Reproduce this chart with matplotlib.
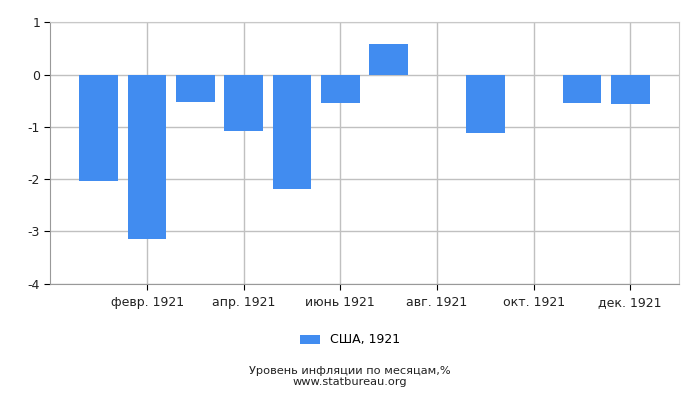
import matplotlib.pyplot as plt

months = ['янв. 1921', 'февр. 1921', 'март 1921', 'апр. 1921', 'май 1921', 'июнь 1921',
          'июль 1921', 'авг. 1921', 'сент. 1921', 'окт. 1921', 'нояб. 1921', 'дек. 1921']
values = [-2.04, -3.14, -0.53, -1.08, -2.19, -0.55, 0.58, 0.0, -1.12, 0.0, -0.55, -0.57]
series_name = 'США, 1921'
bar_color = '#418cf0'

plt.rcParams['axes.unicode_minus'] = False


def main():
    fig = plt.figure(figsize=(7, 4), dpi=100)
    ax = fig.add_axes([0.0721, 0.291, 0.8972, 0.653])

    x = list(range(len(months)))
    ax.bar(x, values, width=0.8, color=bar_color, label=series_name, zorder=3)

    ax.set_xlim(-1, 12)
    ax.set_ylim(-4, 1)
    ax.set_yticks([-4, -3, -2, -1, 0, 1])
    ax.set_xticks(x[1::2])
    ax.set_xticklabels(months[1::2])

    ax.grid(True, color='#c0c0c0', linewidth=1, zorder=0)
    for side in ['top', 'right']:
        ax.spines[side].set_color('#c8c8c8')
    for side in ['left', 'bottom']:
        ax.spines[side].set_color('#999999')
    ax.tick_params(axis='both', labelsize=9, length=4, color='black', labelcolor='#222222')
    ax.tick_params(axis='x', pad=5)

    fig.legend(loc='center', bbox_to_anchor=(0.5, 0.15), frameon=False, fontsize=9,
               handlelength=1.6, handleheight=0.7)
    fig.text(0.5, 0.073, 'Уровень инфляции по месяцам,%', ha='center', va='center',
             fontsize=8.2, color='#222222')
    fig.text(0.5, 0.045, 'www.statbureau.org', ha='center', va='center',
             fontsize=8.2, color='#222222')

    plt.savefig('out.png', dpi=100)


if __name__ == "__main__":
    main()
